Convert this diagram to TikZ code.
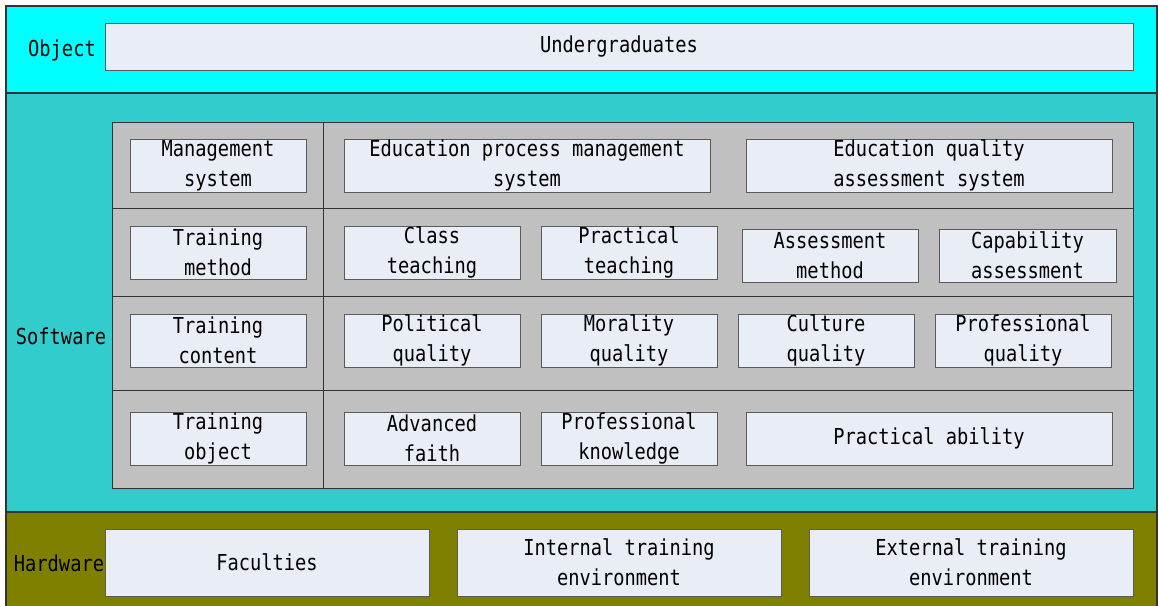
\documentclass[tikz,border=0pt]{standalone}
\usepackage{fontspec}
\newfontfamily\labfont{DejaVu Sans Mono}[FakeStretch=0.85]
\definecolor{objband}{HTML}{00FFFF}
\definecolor{swband}{HTML}{33CCCC}
\definecolor{hwband}{HTML}{808000}
\definecolor{gridgray}{HTML}{C0C0C0}
\definecolor{boxfill}{HTML}{E9EDF6}
\definecolor{boxline}{HTML}{5A5A5A}
\definecolor{bandline}{HTML}{333333}
\tikzset{
  band/.style={draw=bandline, line width=1.2pt},
  gridline/.style={draw=bandline, line width=1pt},
  box/.style={draw=boxline, fill=boxfill, line width=1pt, inner sep=0pt,
    align=center, font=\labfont\fontsize{22}{30}\selectfont},
  bandlabel/.style={inner sep=0pt, font=\labfont\fontsize{22}{30}\selectfont}
}
\newcommand{\bx}[6]{%
  \node[box, minimum width={#4pt-#2pt}, minimum height={#5pt-#3pt}]
    (#1) at ({(#2+#4)/2},{(#3+#5)/2}) {#6};}
\begin{document}
\begin{tikzpicture}[x=1pt,y=-1pt]
\useasboundingbox (0,0) rectangle (1158,605);
\fill[white] (0,0) rectangle (1158,605);
% bands
\path[band, fill=objband] (6,6) rectangle (1157,93);
\path[band, fill=swband] (6,93) rectangle (1157,512);
\path[band, fill=hwband] (6,512) rectangle (1157,607);
% grid
\path[gridline, fill=gridgray] (112,122) rectangle (1133,488);
\draw[gridline] (323,122) -- (323,488);
\draw[gridline] (112,208) -- (1133,208);
\draw[gridline] (112,296) -- (1133,296);
\draw[gridline] (112,390) -- (1133,390);
% band labels
\node[bandlabel] (lobj) at (62,50) {Object};
\node[bandlabel] (lsw) at (61,336) {Software};
\node[bandlabel] (lhw) at (59,563) {Hardware};
% object
\bx{und}{105}{23}{1133}{70}{Undergraduates}
% row 1
\bx{ms}{130}{139}{306}{192}{Management\\system}
\bx{epm}{344}{139}{710}{192}{Education process management\\system}
\bx{eqa}{746}{139}{1112}{192}{Education quality\\assessment system}
% row 2
\bx{tm}{130}{226}{306}{279}{Training\\method}
\bx{ct}{344}{226}{520}{279}{Class\\teaching}
\bx{pt}{541}{226}{717}{279}{Practical\\teaching}
\bx{am}{742}{229}{918}{282}{Assessment\\method}
\bx{ca}{939}{229}{1116}{282}{Capability\\assessment}
% row 3
\bx{tc}{130}{314}{306}{367}{Training\\content}
\bx{pq}{344}{314}{520}{367}{Political\\quality}
\bx{mq}{541}{314}{717}{367}{Morality\\quality}
\bx{cq}{738}{314}{914}{367}{Culture\\quality}
\bx{prq}{935}{314}{1111}{367}{Professional\\quality}
% row 4
\bx{to}{130}{412}{306}{465}{Training\\object}
\bx{af}{344}{412}{520}{465}{Advanced\\faith}
\bx{pk}{541}{412}{717}{465}{Professional\\knowledge}
\bx{pa}{746}{412}{1112}{465}{Practical ability}
% hardware
\bx{fac}{105}{529}{429}{596}{Faculties}
\bx{ite}{457}{529}{781}{596}{Internal training\\environment}
\bx{ete}{809}{529}{1133}{596}{External training\\environment}
\end{tikzpicture}
\end{document}
